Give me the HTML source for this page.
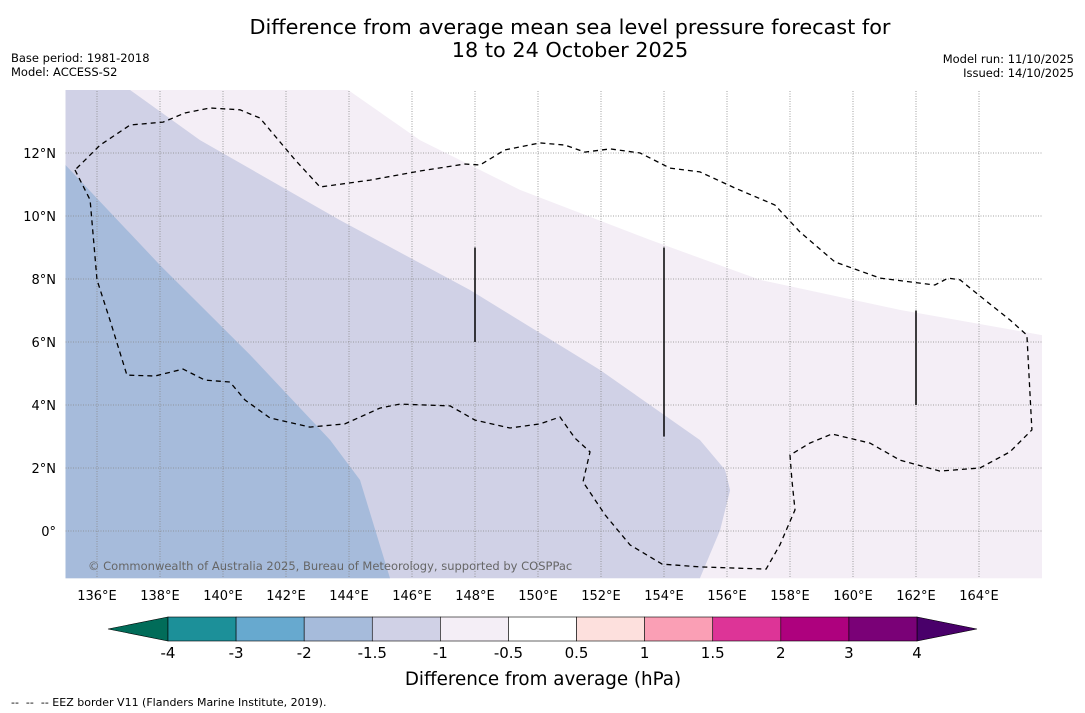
<!DOCTYPE html>
<html><head><meta charset="utf-8"><style>
html,body{margin:0;padding:0;background:#fff;}
svg{display:block;font-family:"DejaVu Sans","Liberation Sans",sans-serif;}
</style></head><body>
<svg id="chart" width="1085" height="713" viewBox="0 0 1085 713">
<text x="570" y="34" font-size="20.8" text-anchor="middle" fill="#000">Difference from average mean sea level pressure forecast for</text>
<text x="570" y="57" font-size="20.8" text-anchor="middle" fill="#000">18 to 24 October 2025</text>
<text x="11" y="62" font-size="11.5">Base period: 1981-2018</text>
<text x="11" y="76" font-size="11.5">Model: ACCESS-S2</text>
<text x="1074" y="63" font-size="11.5" text-anchor="end">Model run: 11/10/2025</text>
<text x="1074" y="77" font-size="11.5" text-anchor="end">Issued: 14/10/2025</text>
<g id="map"></g>
<g id="cbar"></g>
<text x="543" y="685" font-size="18.3" text-anchor="middle">Difference from average (hPa)</text>
<text x="11" y="706" font-size="11" style="white-space:pre">--  --  -- EEZ border V11 (Flanders Marine Institute, 2019).</text>
</svg>
<script>
const lonTicks=[136,138,140,142,144,146,148,150,152,154,156,158,160,162,164];
const latTicks=[0,2,4,6,8,10,12];
const blueEdge=[[135,11.62],[138.0,8.44],[140.86,5.59],[143.4,2.89],[144.35,1.62],[145.3,-1.5]];
const lavEdge=[[137.05,14],[139.27,12.41],[143.71,9.87],[147.84,7.65],[151.97,5.11],[155.14,2.89],[155.94,1.94],[156.1,1.3],[155.78,0.03],[155.14,-1.5]];
const lightEdge=[[143.97,14],[146.25,12.41],[149.43,10.83],[153.56,9.24],[157.05,7.97],[161.49,7.02],[166,6.22]];
const eez=[[135.3,11.46],[135.78,10.51],[136.0,7.97],[136.41,6.7],[136.95,4.95],[137.84,4.92],[138.73,5.14],[139.43,4.79],[140.22,4.73],[140.7,4.16],[141.49,3.59],[142.76,3.3],[143.87,3.4],[144.98,3.9],[145.62,4.03],[147.21,3.97],[148.0,3.52],[149.11,3.27],[150.06,3.4],[150.7,3.62],[151.17,2.95],[151.65,2.51],[151.43,1.56],[152.13,0.51],[152.92,-0.44],[153.94,-1.05],[155.14,-1.14],[157.24,-1.21],[157.68,-0.44],[158.16,0.67],[158.06,1.62],[158.0,2.41],[158.63,2.79],[159.33,3.08],[160.54,2.79],[161.49,2.25],[162.76,1.9],[164.03,2.0],[164.98,2.51],[165.68,3.21],[165.52,6.22],[164.98,6.7],[164.19,7.33],[163.4,7.97],[163.02,8.03],[162.6,7.81],[160.86,8.03],[159.43,8.54],[158.32,9.49],[157.52,10.35],[156.25,10.89],[155.14,11.4],[154.19,11.52],[153.24,12.0],[152.29,12.13],[151.49,12.03],[150.86,12.25],[150.06,12.32],[148.95,12.1],[148.16,11.62],[147.68,11.65],[146.25,11.43],[144.67,11.14],[143.08,10.92],[142.29,11.78],[141.17,13.11],[140.54,13.37],[139.59,13.43],[138.79,13.27],[138.1,12.98],[137.05,12.89],[136.1,12.25],[135.3,11.46]];
const eezSegments=[[148,9,6],[154,9,3],[162,7,4]];
const levels=[-4,-3,-2,-1.5,-1,-0.5,0.5,1,1.5,2,3,4];
const levelLabels=["-4","-3","-2","-1.5","-1","-0.5","0.5","1","1.5","2","3","4"];
const binColors=["#1c9099","#67a9cf","#a6bbdb","#d0d1e6","#f4eef6","#ffffff","#fde0dd","#fa9fb5","#dd3497","#ae017e","#7a0177"];
const underColor="#016c59", overColor="#49006a";

const NS="http://www.w3.org/2000/svg";
const X0=65.5,X1=1042,Y0=91,Y1=578,LON0=135,LAT0=0,PX=31.5;
const x=lon=>X0+(lon-LON0)*PX;
const y=lat=>531-(lat-LAT0)*PX;
function mk(tag,attrs,parent){const e=document.createElementNS(NS,tag);for(const k in attrs)e.setAttribute(k,attrs[k]);parent.appendChild(e);return e;}
const map=document.getElementById('map');
const pts=a=>a.map(p=>x(p[0]).toFixed(1)+','+y(p[1]).toFixed(1)).join(' ');
const L=135,R=166,T=14,B=-1.5;
let e;
e=mk('rect',{x:X0,y:Y0,width:X1-X0,height:Y1-Y0,fill:'#ffffff'},map);


e=mk('polygon',{points:pts([[L,T]].concat(lightEdge,[[R,B],[L,B]])),fill:'#f4eef6'},map);


e=mk('polygon',{points:pts([[L,T]].concat(lavEdge,[[L,B]])),fill:'#d0d1e6'},map);


e=mk('polygon',{points:pts(blueEdge.concat([[L,B]])),fill:'#a6bbdb'},map);


lonTicks.forEach(lon=>{
 e=mk('line',{x1:x(lon),x2:x(lon),y1:Y0,y2:Y1,stroke:'#888',"stroke-width":0.8,"stroke-dasharray":'1,1.5'},map);
 
 
 e=mk('text',{x:x(lon),y:600,"font-size":13,"text-anchor":'middle'},map);e.textContent=lon+'°E';
 
 
});
latTicks.forEach(lat=>{
 e=mk('line',{x1:X0,x2:X1,y1:y(lat),y2:y(lat),stroke:'#888',"stroke-width":0.8,"stroke-dasharray":'1,1.5'},map);
 
 
 e=mk('text',{x:56,y:y(lat)+5,"font-size":13,"text-anchor":'end'},map);e.textContent=lat===0?'0°':lat+'°N';
 
 
});
e=mk('polyline',{points:pts(eez),fill:'none',stroke:'#000',"stroke-width":1.3,"stroke-dasharray":'5,4'},map);


eezSegments.forEach(s=>{
 e=mk('line',{x1:x(s[0]),x2:x(s[0]),y1:y(s[1]),y2:y(s[2]),stroke:'#000',"stroke-width":1.5},map);
 
 
});
e=mk('text',{x:88,y:570,"font-size":11.5,fill:'#666'},map);e.textContent='© Commonwealth of Australia 2025, Bureau of Meteorology, supported by COSPPac';



const cb=document.getElementById('cbar');
const CX0=168,CX1=917,CY0=617,CY1=641;
const bw=(CX1-CX0)/binColors.length;
e=mk('polygon',{points:`108,629 ${CX0},${CY0} ${CX0},${CY1}`,fill:underColor,stroke:'#000',"stroke-width":0.6},cb);


e=mk('polygon',{points:`977,629 ${CX1},${CY0} ${CX1},${CY1}`,fill:overColor,stroke:'#000',"stroke-width":0.6},cb);


binColors.forEach((c,i)=>{
 e=mk('rect',{x:CX0+i*bw,y:CY0,width:bw,height:CY1-CY0,fill:c,stroke:'#000',"stroke-width":0.6},cb);
 
 
});
levels.forEach((v,i)=>{
 e=mk('text',{x:CX0+i*bw,y:658,"font-size":15,"text-anchor":'middle'},cb);e.textContent=levelLabels[i];
 
 
});
</script>
</body></html>
